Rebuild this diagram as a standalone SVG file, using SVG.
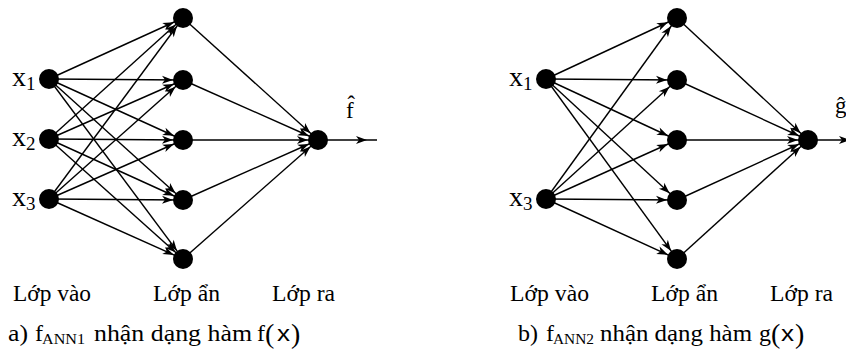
<svg xmlns="http://www.w3.org/2000/svg" width="846" height="349" viewBox="0 0 846 349">
<style>
.e{stroke:#000;stroke-width:1.4;fill:none;marker-end:url(#ah)}
.n{fill:#000}
.t{font-family:"Liberation Serif","Times New Roman",serif;fill:#000}
.s{font-family:"Liberation Sans",Arial,sans-serif;fill:#000}
</style>
<defs>
<marker id="ah" markerUnits="userSpaceOnUse" markerWidth="22" markerHeight="8" refX="21" refY="4" orient="auto" overflow="visible">
<path d="M0,0 L11,4 L0,8 L3,4 z" fill="#000"/>
</marker>
</defs>
<g id="connectors">
<line class="e" x1="49" y1="79" x2="183" y2="18"/>
<line class="e" x1="49" y1="79" x2="183" y2="80"/>
<line class="e" x1="49" y1="79" x2="183" y2="140"/>
<line class="e" x1="49" y1="79" x2="183" y2="200"/>
<line class="e" x1="49" y1="79" x2="183" y2="259"/>
<line class="e" x1="49" y1="139" x2="183" y2="18"/>
<line class="e" x1="49" y1="139" x2="183" y2="80"/>
<line class="e" x1="49" y1="139" x2="183" y2="140"/>
<line class="e" x1="49" y1="139" x2="183" y2="200"/>
<line class="e" x1="49" y1="139" x2="183" y2="259"/>
<line class="e" x1="49" y1="199" x2="183" y2="18"/>
<line class="e" x1="49" y1="199" x2="183" y2="80"/>
<line class="e" x1="49" y1="199" x2="183" y2="140"/>
<line class="e" x1="49" y1="199" x2="183" y2="200"/>
<line class="e" x1="49" y1="199" x2="183" y2="259"/>
<line class="e" x1="183" y1="18" x2="318" y2="140"/>
<line class="e" x1="183" y1="80" x2="318" y2="140"/>
<line class="e" x1="183" y1="140" x2="318" y2="140"/>
<line class="e" x1="183" y1="200" x2="318" y2="140"/>
<line class="e" x1="183" y1="259" x2="318" y2="140"/>
<line class="e" x1="318" y1="140" x2="377" y2="140"/>
<line class="e" x1="546" y1="79" x2="677" y2="18"/>
<line class="e" x1="546" y1="79" x2="677" y2="80"/>
<line class="e" x1="546" y1="79" x2="677" y2="140"/>
<line class="e" x1="546" y1="79" x2="677" y2="200"/>
<line class="e" x1="546" y1="79" x2="677" y2="259"/>
<line class="e" x1="546" y1="199" x2="677" y2="18"/>
<line class="e" x1="546" y1="199" x2="677" y2="80"/>
<line class="e" x1="546" y1="199" x2="677" y2="140"/>
<line class="e" x1="546" y1="199" x2="677" y2="200"/>
<line class="e" x1="546" y1="199" x2="677" y2="259"/>
<line class="e" x1="677" y1="18" x2="808" y2="140"/>
<line class="e" x1="677" y1="80" x2="808" y2="140"/>
<line class="e" x1="677" y1="140" x2="808" y2="140"/>
<line class="e" x1="677" y1="200" x2="808" y2="140"/>
<line class="e" x1="677" y1="259" x2="808" y2="140"/>
<line class="e" x1="808" y1="140" x2="860" y2="140"/>
</g>
<g id="a-in1"><circle class="n" cx="49" cy="79" r="10"/><text class="t" x="12" y="86" font-size="28">x<tspan font-size="19" dy="4">1</tspan></text></g>
<g id="a-in2"><circle class="n" cx="49" cy="139" r="10"/><text class="t" x="12" y="146" font-size="28">x<tspan font-size="19" dy="4">2</tspan></text></g>
<g id="a-in3"><circle class="n" cx="49" cy="199" r="10"/><text class="t" x="12" y="206" font-size="28">x<tspan font-size="19" dy="4">3</tspan></text></g>
<g id="a-h1"><circle class="n" cx="183" cy="18" r="10"/></g>
<g id="a-h2"><circle class="n" cx="183" cy="80" r="10"/></g>
<g id="a-h3"><circle class="n" cx="183" cy="140" r="10"/></g>
<g id="a-h4"><circle class="n" cx="183" cy="200" r="10"/></g>
<g id="a-h5"><circle class="n" cx="183" cy="259" r="10"/></g>
<g id="a-out"><circle class="n" cx="318" cy="140" r="10"/><text class="t" x="346" y="118" font-size="23">f̂</text></g>
<g id="b-in1"><circle class="n" cx="546" cy="79" r="10"/><text class="t" x="509" y="86" font-size="28">x<tspan font-size="19" dy="4">1</tspan></text></g>
<g id="b-in3"><circle class="n" cx="546" cy="199" r="10"/><text class="t" x="509" y="206" font-size="28">x<tspan font-size="19" dy="4">3</tspan></text></g>
<g id="b-h1"><circle class="n" cx="677" cy="18" r="10"/></g>
<g id="b-h2"><circle class="n" cx="677" cy="80" r="10"/></g>
<g id="b-h3"><circle class="n" cx="677" cy="140" r="10"/></g>
<g id="b-h4"><circle class="n" cx="677" cy="200" r="10"/></g>
<g id="b-h5"><circle class="n" cx="677" cy="259" r="10"/></g>
<g id="b-out"><circle class="n" cx="808" cy="140" r="10"/><text class="t" x="835" y="113" font-size="23">ĝ</text></g>
<g id="labels">
<text class="t" x="13" y="301" font-size="23" textLength="78" lengthAdjust="spacingAndGlyphs">Lớp vào</text>
<text class="t" x="153" y="301" font-size="23" textLength="67" lengthAdjust="spacingAndGlyphs">Lớp ẩn</text>
<text class="t" x="272" y="301" font-size="23" textLength="63" lengthAdjust="spacingAndGlyphs">Lớp ra</text>
<text class="t" x="510" y="301" font-size="23" textLength="79" lengthAdjust="spacingAndGlyphs">Lớp vào</text>
<text class="t" x="651" y="301" font-size="23" textLength="67" lengthAdjust="spacingAndGlyphs">Lớp ẩn</text>
<text class="t" x="770" y="301" font-size="23" textLength="63" lengthAdjust="spacingAndGlyphs">Lớp ra</text>
<text class="t" x="8" y="341" font-size="24" textLength="20" lengthAdjust="spacingAndGlyphs">a)</text>
<text class="t" x="35" y="341" font-size="24">f</text>
<text class="t" x="42" y="344" font-size="15" textLength="43" lengthAdjust="spacingAndGlyphs">ANN1</text>
<text class="t" x="94" y="341" font-size="24" textLength="158" lengthAdjust="spacingAndGlyphs">nhận dạng hàm</text>
<text class="t" x="257" y="341" font-size="24">f</text>
<text class="t" x="265" y="343" font-size="28">(</text>
<text class="s" x="277" y="341" font-size="22" textLength="13" lengthAdjust="spacingAndGlyphs">x</text>
<text class="t" x="291" y="343" font-size="28">)</text>
<text class="t" x="518" y="341" font-size="24" textLength="20" lengthAdjust="spacingAndGlyphs">b)</text>
<text class="t" x="546" y="341" font-size="24">f</text>
<text class="t" x="553" y="344" font-size="15" textLength="41" lengthAdjust="spacingAndGlyphs">ANN2</text>
<text class="t" x="600" y="341" font-size="24" textLength="152" lengthAdjust="spacingAndGlyphs">nhận dạng hàm</text>
<text class="t" x="759" y="341" font-size="24">g</text>
<text class="t" x="771" y="343" font-size="28">(</text>
<text class="s" x="781" y="341" font-size="22" textLength="13" lengthAdjust="spacingAndGlyphs">x</text>
<text class="t" x="795" y="343" font-size="28">)</text>
</g>
</svg>
